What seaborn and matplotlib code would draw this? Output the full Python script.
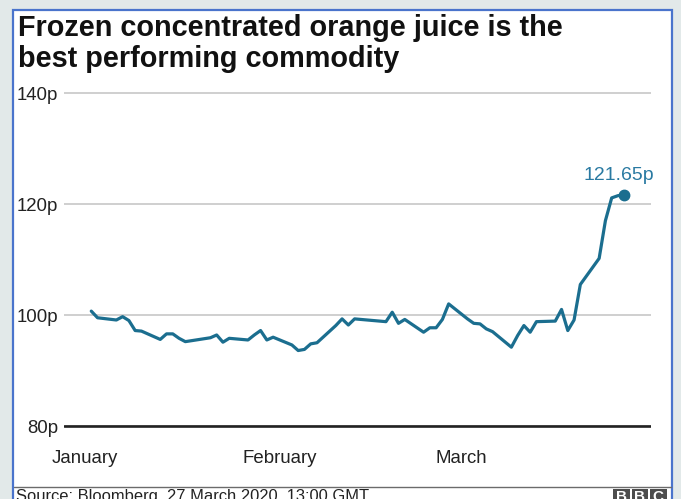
import matplotlib
matplotlib.use("Agg")
import matplotlib.pyplot as plt
from matplotlib.patches import Rectangle
from matplotlib.lines import Line2D
import pandas as pd
import seaborn as sns

# Daily closing prices, pence per pound, first quarter of 2020
dates = [
    "2020-01-02", "2020-01-03", "2020-01-06", "2020-01-07", "2020-01-08",
    "2020-01-09", "2020-01-10", "2020-01-13", "2020-01-14", "2020-01-15",
    "2020-01-16", "2020-01-17", "2020-01-21", "2020-01-22", "2020-01-23",
    "2020-01-24", "2020-01-27", "2020-01-28", "2020-01-29", "2020-01-30",
    "2020-01-31", "2020-02-03", "2020-02-04", "2020-02-05", "2020-02-06",
    "2020-02-07", "2020-02-10", "2020-02-11", "2020-02-12", "2020-02-13",
    "2020-02-14", "2020-02-18", "2020-02-19", "2020-02-20", "2020-02-21",
    "2020-02-24", "2020-02-25", "2020-02-26", "2020-02-27", "2020-02-28",
    "2020-03-02", "2020-03-03", "2020-03-04", "2020-03-05", "2020-03-06",
    "2020-03-09", "2020-03-10", "2020-03-11", "2020-03-12", "2020-03-13",
    "2020-03-16", "2020-03-17", "2020-03-18", "2020-03-19", "2020-03-20",
    "2020-03-23", "2020-03-24", "2020-03-25", "2020-03-26", "2020-03-27",
]
prices = [
    100.7, 99.5, 99.1, 99.7, 99.0,
    97.2, 97.1, 95.6, 96.6, 96.6,
    95.8, 95.2, 95.9, 96.4, 95.1,
    95.8, 95.5, 96.4, 97.2, 95.5,
    96.0, 94.6, 93.6, 93.8, 94.8,
    95.0, 98.1, 99.3, 98.2, 99.3,
    99.2, 98.8, 100.5, 98.5, 99.2,
    96.9, 97.7, 97.7, 99.2, 102.0,
    99.3, 98.5, 98.4, 97.5, 97.0,
    94.2, 96.3, 98.1, 96.9, 98.8,
    98.9, 101.0, 97.2, 99.1, 105.5,
    110.2, 117.0, 121.1, 121.5, 121.65,
]
y_ticks = [80, 100, 120, 140]
y_labels = ["80p", "100p", "120p", "140p"]
month_ticks = ["2020-01-01", "2020-02-01", "2020-03-01"]
month_labels = ["January", "February", "March"]

title = "Frozen concentrated orange juice is the\nbest performing commodity"
source = "Source: Bloomberg, 27 March 2020, 13:00 GMT"

LINE = "#1b6e8f"
LABEL = "#2a7aa2"
INK = "#222222"

sns.set_theme(style="white")
plt.rcParams["font.family"] = ["Liberation Sans", "DejaVu Sans"]

df = pd.DataFrame({"date": pd.to_datetime(dates), "price": prices})

W, H = 681, 499
fig = plt.figure(figsize=(W / 100, H / 100), dpi=100)
fig.patch.set_facecolor("#e2e9e9")

def fx(px):
    return px / W

def fy(py):
    return 1 - py / H

# white card with a blue outline
card = Rectangle((fx(13), fy(520)), fx(672) - fx(13), fy(9.5) - fy(520),
                 transform=fig.transFigure, facecolor="white",
                 edgecolor="#4a74cc", linewidth=1.6, zorder=-10)
fig.patches.append(card)

# footer divider
fig.add_artist(Line2D([fx(14), fx(671)], [fy(486.5), fy(486.5)],
                      transform=fig.transFigure, color="#6b6b6b", lw=1.0))

fig.text(fx(18), fy(14.5), title, ha="left", va="top", fontsize=20.8,
         fontweight="bold", color="#111111", linespacing=1.1)

fig.text(fx(16), fy(489), source, ha="left", va="top", fontsize=11.9,
         color=INK)

# BBC blocks
for i, letter in enumerate("BBC"):
    x0 = 613 + i * 18.5
    fig.patches.append(Rectangle((fx(x0), fy(505)), fx(16.5), fy(489) - fy(505),
                                 transform=fig.transFigure, facecolor="#4d4d4d",
                                 edgecolor="none", zorder=2))
    fig.text(fx(x0 + 8.25), fy(490), letter, ha="center", va="top",
             fontsize=11, fontweight="bold", color="white", zorder=3)

# plotting area
y_lo, y_hi = 79, 141
ax = fig.add_axes([fx(64), fy(431.55), fx(651) - fx(64), fy(87.45) - fy(431.55)])
ax.set_facecolor("none")

sns.lineplot(data=df, x="date", y="price", ax=ax, color=LINE, lw=2.3,
             zorder=3)

last_date = df["date"].iloc[-1]
last_price = df["price"].iloc[-1]
ax.plot([last_date], [last_price], "o", color=LINE, ms=7.5, zorder=4,
        clip_on=False)
ax.annotate(f"{last_price:.2f}p", xy=(last_date, last_price),
            xytext=(-4, 10.5), textcoords="offset points",
            ha="center", va="baseline", fontsize=14, color=LABEL)

x0 = pd.Timestamp("2020-01-01")
ax.set_xlim(x0 - pd.Timedelta(days=3.35), x0 + pd.Timedelta(days=90.27))
ax.set_ylim(y_lo, y_hi)

ax.set_yticks(y_ticks)
ax.set_yticklabels(y_labels)
ax.set_xticks(pd.to_datetime(month_ticks))
ax.set_xticklabels(month_labels)
ax.tick_params(axis="both", length=0, labelsize=13.4, labelcolor=INK)
ax.tick_params(axis="y", pad=4)
ax.tick_params(axis="x", pad=13)

ax.yaxis.grid(True, color="#cccccc", lw=1.3)
ax.xaxis.grid(False)
ax.axhline(80, color=INK, lw=1.9, zorder=2)
for s in ax.spines.values():
    s.set_visible(False)
ax.set_xlabel("")
ax.set_ylabel("")

fig.savefig("out.png", dpi=100, facecolor=fig.get_facecolor())
